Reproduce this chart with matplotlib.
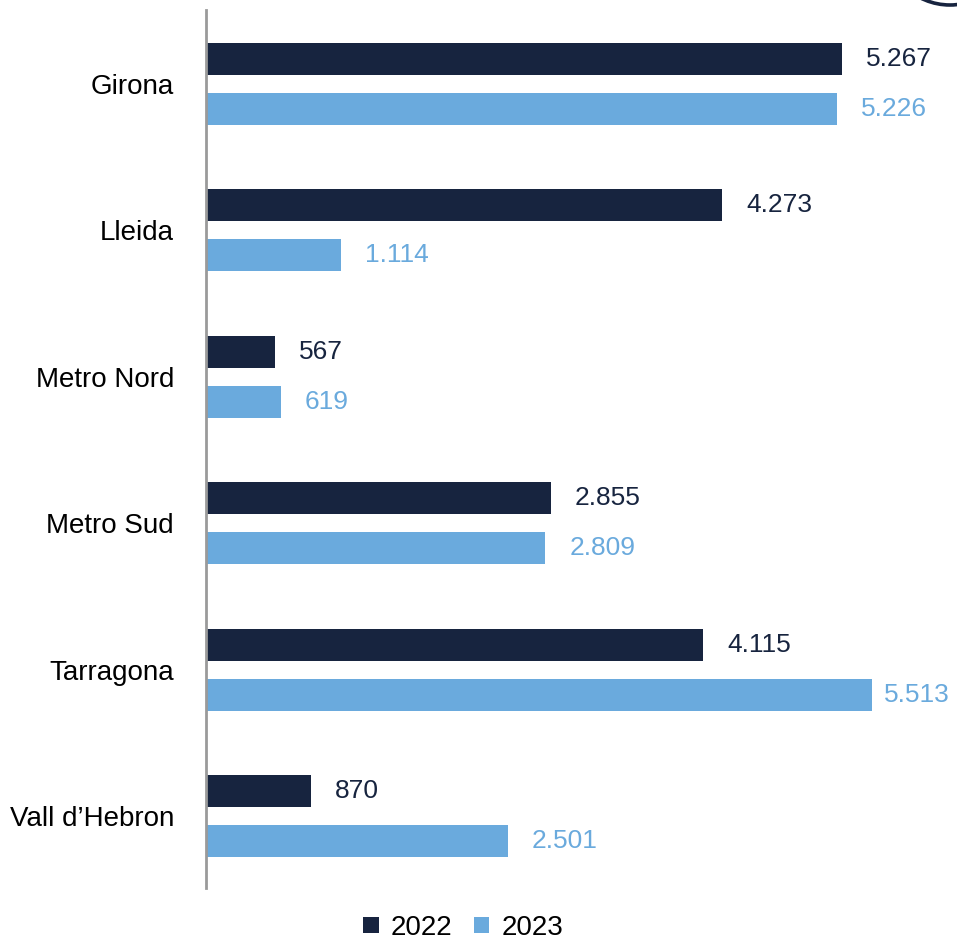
import matplotlib.pyplot as plt
from matplotlib.patches import Circle
import numpy as np

plt.rcParams['font.family'] = ['Liberation Sans', 'DejaVu Sans']

# data
regions = ["Girona", "Lleida", "Metro Nord", "Metro Sud", "Tarragona", "Vall d\u2019Hebron"]
values_2022 = [5267, 4273, 567, 2855, 4115, 870]
values_2023 = [5226, 1114, 619, 2809, 5513, 2501]
years = ["2022", "2023"]

dark = "#17243f"
light = "#6aaadd"


def fmt(v):
    # thousands separator as dot
    return f"{v:,}".replace(",", ".")


fig = plt.figure(figsize=(9.57, 9.42), dpi=100)
ax = fig.add_axes([0.2153, 0.0573, 0.7847, 0.9321])

y = np.arange(len(regions))
h = 0.219
off = 0.171

b1 = ax.barh(y - off, values_2022, height=h, color=dark, label=years[0])
b2 = ax.barh(y + off, values_2023, height=h, color=light, label=years[1])

labels = []
for bars, vals, col in [(b1, values_2022, dark), (b2, values_2023, light)]:
    for bar, v in zip(bars, vals):
        t = ax.annotate(fmt(v), (bar.get_width(), bar.get_y() + bar.get_height() / 2),
                        xytext=(24, 0), textcoords="offset pixels",
                        va="center", ha="left", fontsize=19, color=col)
        labels.append(t)

ax.set_xlim(0, 6219)
ax.set_ylim(5.49, -0.505)
ax.set_yticks(y)
ax.set_yticklabels(regions, fontsize=20)
ax.tick_params(axis="y", length=0, pad=23)
ax.set_xticks([])

for s in ["top", "right", "bottom"]:
    ax.spines[s].set_visible(False)
ax.spines["left"].set_color("#9a9a9a")
ax.spines["left"].set_linewidth(2)

fig.legend(loc="center", bbox_to_anchor=(0.484, 0.015), ncol=2, frameon=False,
           fontsize=20, handlelength=0.55, handleheight=0.55, handletextpad=0.45,
           columnspacing=0.75)

# keep labels inside the figure (pull back the ones that overflow)
fig.canvas.draw()
r = fig.canvas.get_renderer()
for t in labels:
    bb = t.get_window_extent(r)
    if bb.x1 > 950:
        t.set_position((24 - (bb.x1 - 950), 0))

# cropped logo edge in the top right corner
fig.add_artist(Circle((9.50, 10.02), 0.65, transform=fig.dpi_scale_trans,
                      fill=False, color=dark, lw=2.6))

fig.savefig("out.png", dpi=100)
